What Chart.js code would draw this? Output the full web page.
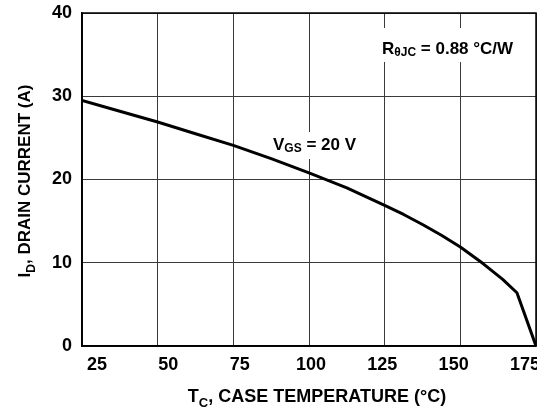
<!DOCTYPE html>
<html><head><meta charset="utf-8">
<script src="https://cdn.jsdelivr.net/npm/chart.js@4/dist/chart.umd.min.js"></script>
<style>html,body{margin:0;padding:0;background:#fff}#wrap{width:537px;height:409px}</style>
</head><body><div id="wrap"><canvas id="c" width="537" height="409"></canvas></div>
<script>
const temperatures = [25, 37.5, 50, 62.5, 75, 87.5, 100, 112.5, 125, 131.25, 137.5, 143.75, 150, 157.5, 164, 168.7, 175];
const drainCurrent = [29.5, 28.2, 26.9, 25.5, 24.1, 22.5, 20.8, 19.0, 16.9, 15.8, 14.6, 13.3, 11.9, 9.9, 8.0, 6.4, 0];
const xTicks = [25, 50, 75, 100, 125, 150, 175];
const yTicks = [0, 10, 20, 30, 40];

const FONT = '"Liberation Sans", Arial, Helvetica, sans-serif';

function drawSub(ctx, parts, x, y, size, subSize, subDrop) {
  let cx = x;
  for (const [t, sub] of parts) {
    ctx.font = 'bold ' + (sub ? subSize : size) + 'px ' + FONT;
    ctx.fillText(t, cx, sub ? y + subDrop : y);
    cx += ctx.measureText(t).width;
  }
  return cx - x;
}
function measureSub(ctx, parts, size, subSize) {
  let w = 0;
  for (const [t, sub] of parts) {
    ctx.font = 'bold ' + (sub ? subSize : size) + 'px ' + FONT;
    w += ctx.measureText(t).width;
  }
  return w;
}

const rParts = [['R', false], ['θJC', true], [' = 0.88 °C/W', false]];
const vParts = [['V', false], ['GS', true], [' = 20 V', false]];
const RX = 382, RY = 54, VX = 273, VY = 150;

const textPlugin = {
  id: 'texts',
  beforeDatasetsDraw(chart) {
    const ctx = chart.ctx;
    ctx.save();
    ctx.fillStyle = '#fff';
    const rw = measureSub(ctx, rParts, 17, 12);
    ctx.fillRect(RX - 3, 28, rw + 6, 34);
    const vw = measureSub(ctx, vParts, 17, 12);
    ctx.fillRect(VX - 3, 132, vw + 6, 27);
    ctx.restore();
  },
  afterDraw(chart) {
    const ctx = chart.ctx;
    ctx.save();
    ctx.fillStyle = '#000';
    ctx.textBaseline = 'alphabetic';
    ctx.textAlign = 'left';
    drawSub(ctx, rParts, RX, RY, 17, 12, 2);
    drawSub(ctx, vParts, VX, VY, 17, 12, 2);

    // x axis title
    const xParts = [['T', false], ['C', true], [', CASE TEMPERATURE (°C)', false]];
    const xw = measureSub(ctx, xParts, 18, 13);
    drawSub(ctx, xParts, 317 - xw / 2, 402, 18, 13, 5);

    // y axis title
    const yParts = [['I', false], ['D', true], [', DRAIN CURRENT (A)', false]];
    const yw = measureSub(ctx, yParts, 17, 12);
    ctx.translate(30, 181);
    ctx.rotate(-Math.PI / 2);
    drawSub(ctx, yParts, -yw / 2, 0, 17, 12, 5);
    ctx.restore();
  }
};

const noPad = s => { s.paddingLeft = 0; s.paddingRight = 0; s.paddingTop = 0; s.paddingBottom = 0; };

new Chart(document.getElementById('c'), {
  type: 'line',
  data: {
    datasets: [{
      data: temperatures.map((t, i) => ({ x: t, y: drainCurrent[i] })),
      xAxisID: 'x',
      yAxisID: 'y',
      borderColor: '#000',
      borderWidth: 3,
      pointRadius: 0,
      tension: 0,
      borderJoinStyle: 'round',
      fill: false
    }]
  },
  options: {
    responsive: false,
    animation: false,
    devicePixelRatio: 1,
    layout: { padding: { top: 13, right: 1, left: 0, bottom: 0 } },
    plugins: { legend: { display: false }, tooltip: { enabled: false } },
    scales: {
      x: {
        type: 'linear', min: 25, max: 175, position: 'bottom',
        afterBuildTicks: s => { s.ticks = xTicks.map(v => ({ value: v })); },
        afterFit: s => { s.height = 0; noPad(s); },
        grid: { color: '#3a3a3a', lineWidth: 1, drawTicks: false },
        border: { color: '#000', width: 1.5 },
        ticks: { display: false }
      },
      xLabels: {
        type: 'linear', min: 19.74, max: 178.87, position: 'bottom',
        afterBuildTicks: s => { s.ticks = xTicks.map(v => ({ value: v })); },
        afterFit: s => { s.height = 63; noPad(s); },
        grid: { display: false, drawTicks: false },
        border: { display: false },
        ticks: { color: '#000', padding: 8, font: { family: FONT, size: 18, weight: 'bold' }, maxRotation: 0, autoSkip: false }
      },
      y: {
        type: 'linear', min: 0, max: 40,
        afterBuildTicks: s => { s.ticks = yTicks.map(v => ({ value: v })); },
        afterFit: s => { s.width = 82; noPad(s); },
        grid: { color: '#3a3a3a', lineWidth: 1, drawTicks: false },
        border: { color: '#000', width: 1.5 },
        ticks: { color: '#000', padding: 10, font: { family: FONT, size: 18, weight: 'bold' } }
      }
    }
  },
  plugins: [textPlugin, {
    id: 'frame',
    afterDatasetsDraw(chart) {
      const a = chart.chartArea, ctx = chart.ctx;
      ctx.save();
      ctx.strokeStyle = '#000'; ctx.lineWidth = 1.5;
      ctx.strokeRect(a.left, a.top, a.right - a.left, a.bottom - a.top);
      ctx.restore();
    }
  }]
});
</script></body></html>
